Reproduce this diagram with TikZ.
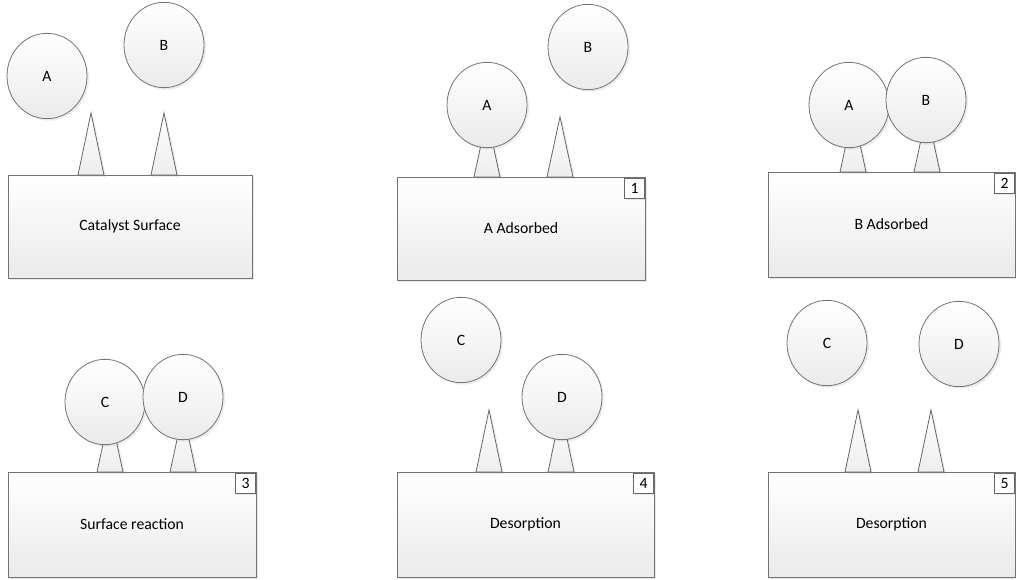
\documentclass[tikz,border=0pt]{standalone}
\usepackage{fontspec}
\setmainfont{Carlito}
\usetikzlibrary{shapes.geometric,shadows}

\begin{document}
\begin{tikzpicture}[x=0.75pt,y=-0.75pt,
  every node/.style={font=\fontsize{11.8}{13}\selectfont},
  surface/.style={draw=black!55,line width=0.7pt,top color=white,bottom color=black!8,
    drop shadow={opacity=0.18,shadow xshift=1.5pt,shadow yshift=-1.5pt}},
  site/.style={draw=black!60,line width=0.6pt,top color=white,bottom color=black!7,
    drop shadow={opacity=0.15,shadow xshift=1.5pt,shadow yshift=-1.5pt}},
  atom/.style={ellipse,draw=black!55,line width=0.6pt,top color=white,bottom color=black!8,
    minimum width=60pt,minimum height=64pt,inner sep=0pt,
    drop shadow={opacity=0.15,shadow xshift=1.5pt,shadow yshift=-1.5pt}},
  stepno/.style={draw=black!60,line width=0.6pt,fill=white,anchor=north east,
    minimum width=15pt,minimum height=15pt,inner sep=0pt,
    drop shadow={opacity=0.15,shadow xshift=1pt,shadow yshift=-1pt}}]
\useasboundingbox (0,0) rectangle (1016,579);
\draw[surface] (8,175) rectangle (252,278);
\node (s0) at (130,226.5) {Catalyst Surface};
\draw[site] (78,175) -- (91,113) -- (104,175) -- cycle;
\draw[site] (151,175) -- (164,113) -- (177,175) -- cycle;
\node[atom] (a0) at (47,76) {A};
\node[atom] (b0) at (164,45) {B};
\draw[surface] (397,177) rectangle (645,280);
\node (s1) at (521,228.5) {A Adsorbed};
\node[stepno] (n1) at (645,178) {1};
\draw[site] (474,177) -- (487,117) -- (500,177) -- cycle;
\draw[site] (547,177) -- (560,117) -- (573,177) -- cycle;
\node[atom] (a1) at (487,105) {A};
\node[atom] (b1) at (588,47) {B};
\draw[surface] (768,172) rectangle (1015,277);
\node (s2) at (891.5,224.5) {B Adsorbed};
\node[stepno] (n2) at (1015,173) {2};
\draw[site] (840,172) -- (853,112) -- (866,172) -- cycle;
\draw[site] (914,172) -- (927,112) -- (940,172) -- cycle;
\node[atom] (a2) at (849,105) {A};
\node[atom] (b2) at (926,100) {B};
\draw[surface] (8,472) rectangle (256,577);
\node (s3) at (132,524.5) {Surface reaction};
\node[stepno] (n3) at (256,473) {3};
\draw[site] (97,472) -- (110,412) -- (123,472) -- cycle;
\draw[site] (170,472) -- (183,412) -- (196,472) -- cycle;
\node[atom] (c3) at (105,402) {C};
\node[atom] (d3) at (183,397) {D};
\draw[surface] (397,472) rectangle (654,577);
\node (s4) at (525.5,524.5) {Desorption};
\node[stepno] (n4) at (654,473) {4};
\draw[site] (476,472) -- (489,410) -- (502,472) -- cycle;
\draw[site] (548,472) -- (561,410) -- (574,472) -- cycle;
\node[atom] (c4) at (461,340) {C};
\node[atom] (d4) at (562,397) {D};
\draw[surface] (768,472) rectangle (1015,577);
\node (s5) at (891.5,524.5) {Desorption};
\node[stepno] (n5) at (1015,473) {5};
\draw[site] (845,472) -- (858,410) -- (871,472) -- cycle;
\draw[site] (918,472) -- (931,410) -- (944,472) -- cycle;
\node[atom] (c5) at (827,343) {C};
\node[atom] (d5) at (959,344) {D};
\end{tikzpicture}
\end{document}
